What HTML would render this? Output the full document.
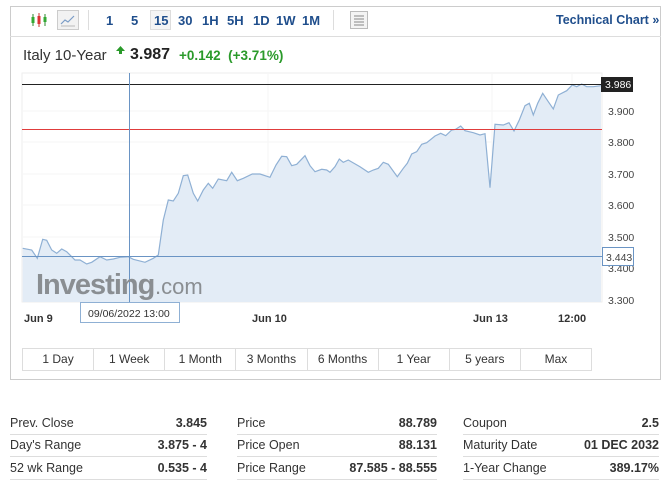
<!DOCTYPE html>
<html><head><meta charset="utf-8"><style>
body{margin:0;width:671px;height:485px;background:#fff;font-family:"Liberation Sans",sans-serif;position:relative;overflow:hidden}
.a{position:absolute}
.tb{font-size:13px;color:#1f4e8c;font-weight:bold}
.btns{position:absolute;left:22px;top:348px;width:570px;height:23px;display:flex;border:1px solid #ddd;box-sizing:border-box}
.btns div{flex:1;border-right:1px solid #ddd;text-align:center;font-size:12px;color:#333;line-height:21px}
.btns div:last-child{border-right:none}
.col{position:absolute;top:412px;font-size:12.5px;color:#333}
.col div{height:22.5px;border-bottom:1px solid #ddd;box-sizing:border-box;display:flex;justify-content:space-between;align-items:center}
.col span:last-child{font-weight:bold;color:#333}
</style></head><body>
<div class="a" style="left:10px;top:6px;width:651px;height:374px;border:1px solid #ccc;box-sizing:border-box"></div>
<div class="a" style="left:10px;top:36px;width:651px;height:1px;background:#ddd"></div>
<svg class="a" style="left:30px;top:11px" width="20" height="18"><g stroke="#2a8a2a" stroke-width="1"><line x1="3" y1="3" x2="3" y2="15"/><line x1="15" y1="3" x2="15" y2="15"/></g><rect x="1.5" y="6" width="3" height="6" fill="#3a3"/><line x1="9" y1="2" x2="9" y2="16" stroke="#c33"/><rect x="7.5" y="5" width="3" height="8" fill="#d33"/><rect x="13.5" y="6" width="3" height="5" fill="#3a3"/></svg>
<div class="a" style="left:57px;top:10px;width:22px;height:20px;border:1px solid #ccc;background:#f2f2f2;box-sizing:border-box"></div>
<svg class="a" style="left:60px;top:13px" width="16" height="14"><polyline points="1,11 5,7 8,9 14,3" fill="none" stroke="#7a9cc6" stroke-width="1.2"/><line x1="1" y1="13" x2="15" y2="13" stroke="#bbb"/></svg>
<div class="a" style="left:88px;top:10px;width:1px;height:20px;background:#ddd"></div>
<div class="a tb" style="left:106px;top:13px">1</div>
<div class="a tb" style="left:131px;top:13px">5</div>
<div class="a" style="left:150px;top:10px;width:21px;height:20px;border:1px solid #ddd;background:#f4f4f4;box-sizing:border-box"></div>
<div class="a tb" style="left:154px;top:13px">15</div>
<div class="a tb" style="left:178px;top:13px">30</div>
<div class="a tb" style="left:202px;top:13px">1H</div>
<div class="a tb" style="left:227px;top:13px">5H</div>
<div class="a tb" style="left:253px;top:13px">1D</div>
<div class="a tb" style="left:276px;top:13px">1W</div>
<div class="a tb" style="left:302px;top:13px">1M</div>
<div class="a" style="left:333px;top:10px;width:1px;height:20px;background:#ddd"></div>
<div class="a" style="left:350px;top:11px;width:18px;height:18px;border:1px solid #bbb;background:#f4f4f4;box-sizing:border-box"></div>
<svg class="a" style="left:353px;top:14px" width="12" height="12"><g stroke="#888" stroke-width="1"><line x1="1" y1="2" x2="11" y2="2"/><line x1="1" y1="5" x2="11" y2="5"/><line x1="1" y1="8" x2="11" y2="8"/><line x1="1" y1="11" x2="11" y2="11"/></g></svg>
<div class="a tb" style="left:556px;top:13px;font-size:12.5px">Technical Chart »</div>
<div class="a" style="left:23px;top:47px;font-size:15px;color:#333">Italy 10-Year</div>
<svg class="a" style="left:116px;top:46px" width="9" height="8"><polygon points="4.5,0 9,5 6,5 6,8 3,8 3,5 0,5" fill="#2a9a2a"/></svg>
<div class="a" style="left:130px;top:46px;font-size:16px;font-weight:bold;color:#222">3.987</div>
<div class="a" style="left:179px;top:48px;font-size:13.5px;font-weight:bold;color:#2a9a2a">+0.142 &nbsp;(+3.71%)</div>
<svg class="a" style="left:0;top:0" width="671" height="340">
<rect x="22" y="73" width="580" height="229" fill="#fff" stroke="#eee"/>
<g stroke="#f5f5f5"><line x1="22" y1="111" x2="602" y2="111"/><line x1="22" y1="142" x2="602" y2="142"/><line x1="22" y1="174" x2="602" y2="174"/><line x1="22" y1="205" x2="602" y2="205"/><line x1="22" y1="237" x2="602" y2="237"/><line x1="22" y1="268" x2="602" y2="268"/><line x1="268" y1="73" x2="268" y2="302"/><line x1="492" y1="73" x2="492" y2="302"/><line x1="572" y1="73" x2="572" y2="302"/></g>
<path d="M22.7,248.3 L31.7,250 37.3,258.3 42.7,239.3 46.7,240.3 51.7,250 56.7,253.3 61.7,249 66.7,251.7 75,260 80,260 86.7,264 91.7,262.3 100,256.7 106.7,260 113.3,259 120,257.3 128.3,256.7 133.3,259.3 145,262.3 153.3,258.3 158.3,255 163.3,220 168.3,200 173.3,201 178.3,193.3 183.3,175.7 187.7,175 193.3,193.3 197.7,201 203.3,190 208.3,183.3 212.7,188.3 218.3,179 226.7,180.7 231.7,172.3 237.3,180.7 243.3,178.3 252.3,174 260,174 270,177.3 276,165 281.7,156.3 286.7,156.7 291.7,165.7 296.7,164.3 305,155.7 310,165.7 315,171.7 321.7,169.3 326.7,170 330,172.3 335,166.7 339.3,159 343.3,162.3 348.3,160 360,166.7 368.3,172.3 373.3,170 378.3,168.3 383.3,162.3 388.3,164.3 397.3,176.7 403.3,168.3 407.3,163.3 411.7,154 416.7,151.7 421.7,144.3 426.7,142.7 435,136 440.7,133.3 445.7,135.7 451.7,130 455.7,129.3 460.7,126 465,130.7 473.3,132.7 480,135 485,133.7 490,187.7 495,124.3 503.3,125 509,122.7 514,131 519.3,120 525,105.7 529.3,103.3 533.3,115 537.7,103.3 542.7,93.3 548.3,101.7 553.3,109 558.3,95 566.7,90.7 572.3,85 576.7,86.7 581.7,84 586.7,86.7 593.3,86.7 601,85.7 L601,302 22.7,302Z" fill="#e3ecf6" stroke="none"/>
<polyline points="22.7,248.3 31.7,250 37.3,258.3 42.7,239.3 46.7,240.3 51.7,250 56.7,253.3 61.7,249 66.7,251.7 75,260 80,260 86.7,264 91.7,262.3 100,256.7 106.7,260 113.3,259 120,257.3 128.3,256.7 133.3,259.3 145,262.3 153.3,258.3 158.3,255 163.3,220 168.3,200 173.3,201 178.3,193.3 183.3,175.7 187.7,175 193.3,193.3 197.7,201 203.3,190 208.3,183.3 212.7,188.3 218.3,179 226.7,180.7 231.7,172.3 237.3,180.7 243.3,178.3 252.3,174 260,174 270,177.3 276,165 281.7,156.3 286.7,156.7 291.7,165.7 296.7,164.3 305,155.7 310,165.7 315,171.7 321.7,169.3 326.7,170 330,172.3 335,166.7 339.3,159 343.3,162.3 348.3,160 360,166.7 368.3,172.3 373.3,170 378.3,168.3 383.3,162.3 388.3,164.3 397.3,176.7 403.3,168.3 407.3,163.3 411.7,154 416.7,151.7 421.7,144.3 426.7,142.7 435,136 440.7,133.3 445.7,135.7 451.7,130 455.7,129.3 460.7,126 465,130.7 473.3,132.7 480,135 485,133.7 490,187.7 495,124.3 503.3,125 509,122.7 514,131 519.3,120 525,105.7 529.3,103.3 533.3,115 537.7,103.3 542.7,93.3 548.3,101.7 553.3,109 558.3,95 566.7,90.7 572.3,85 576.7,86.7 581.7,84 586.7,86.7 593.3,86.7 601,85.7" fill="none" stroke="#8fb0d4" stroke-width="1.2"/>
<line x1="22" y1="84.5" x2="602" y2="84.5" stroke="#222"/>
<line x1="22" y1="129.5" x2="602" y2="129.5" stroke="#e03c3c"/>
<line x1="22" y1="256.5" x2="602" y2="256.5" stroke="#6a94c4"/>
<line x1="129.5" y1="73" x2="129.5" y2="302" stroke="#6a94c4"/>
<g font-family="Liberation Sans,sans-serif" font-size="10.5" fill="#444">
<text x="608" y="115">3.900</text><text x="608" y="146">3.800</text><text x="608" y="178">3.700</text><text x="608" y="209">3.600</text><text x="608" y="241">3.500</text><text x="608" y="272">3.400</text><text x="608" y="304">3.300</text>
</g>
<rect x="601" y="77" width="32" height="15" fill="#222"/>
<text x="605" y="88" font-family="Liberation Sans,sans-serif" font-size="10.5" fill="#fff">3.986</text>
<rect x="602.5" y="247.5" width="31" height="18" fill="#fff" stroke="#6a94c4"/>
<text x="606" y="261" font-family="Liberation Sans,sans-serif" font-size="10.5" fill="#444">3.443</text>
<text x="36" y="294" font-family="Liberation Sans,sans-serif" font-size="29" font-weight="bold" fill="#8a8e92" letter-spacing="-1">Investing</text>
<text x="155" y="294" font-family="Liberation Sans,sans-serif" font-size="22" fill="#8a8e92">.com</text>
<g font-family="Liberation Sans,sans-serif" font-size="11" font-weight="bold" fill="#333">
<text x="24" y="322">Jun 9</text><text x="252" y="322">Jun 10</text><text x="473" y="322">Jun 13</text><text x="558" y="322">12:00</text></g>
<rect x="80.5" y="302.5" width="99" height="20" fill="#fff" stroke="#8fb0d4"/>
<text x="88" y="317" font-family="Liberation Sans,sans-serif" font-size="10.5" fill="#333">09/06/2022 13:00</text>
</svg>
<div class="btns"><div>1 Day</div><div>1 Week</div><div>1 Month</div><div>3 Months</div><div>6 Months</div><div>1 Year</div><div>5 years</div><div>Max</div></div>
<div class="col" style="left:10px;width:197px"><div><span>Prev. Close</span><span>3.845</span></div><div><span>Day's Range</span><span>3.875 - 4</span></div><div><span>52 wk Range</span><span>0.535 - 4</span></div></div>
<div class="col" style="left:237px;width:200px"><div><span>Price</span><span>88.789</span></div><div><span>Price Open</span><span>88.131</span></div><div><span>Price Range</span><span>87.585 - 88.555</span></div></div>
<div class="col" style="left:463px;width:196px"><div><span>Coupon</span><span>2.5</span></div><div><span>Maturity Date</span><span>01 DEC 2032</span></div><div><span>1-Year Change</span><span>389.17%</span></div></div>
</body></html>
